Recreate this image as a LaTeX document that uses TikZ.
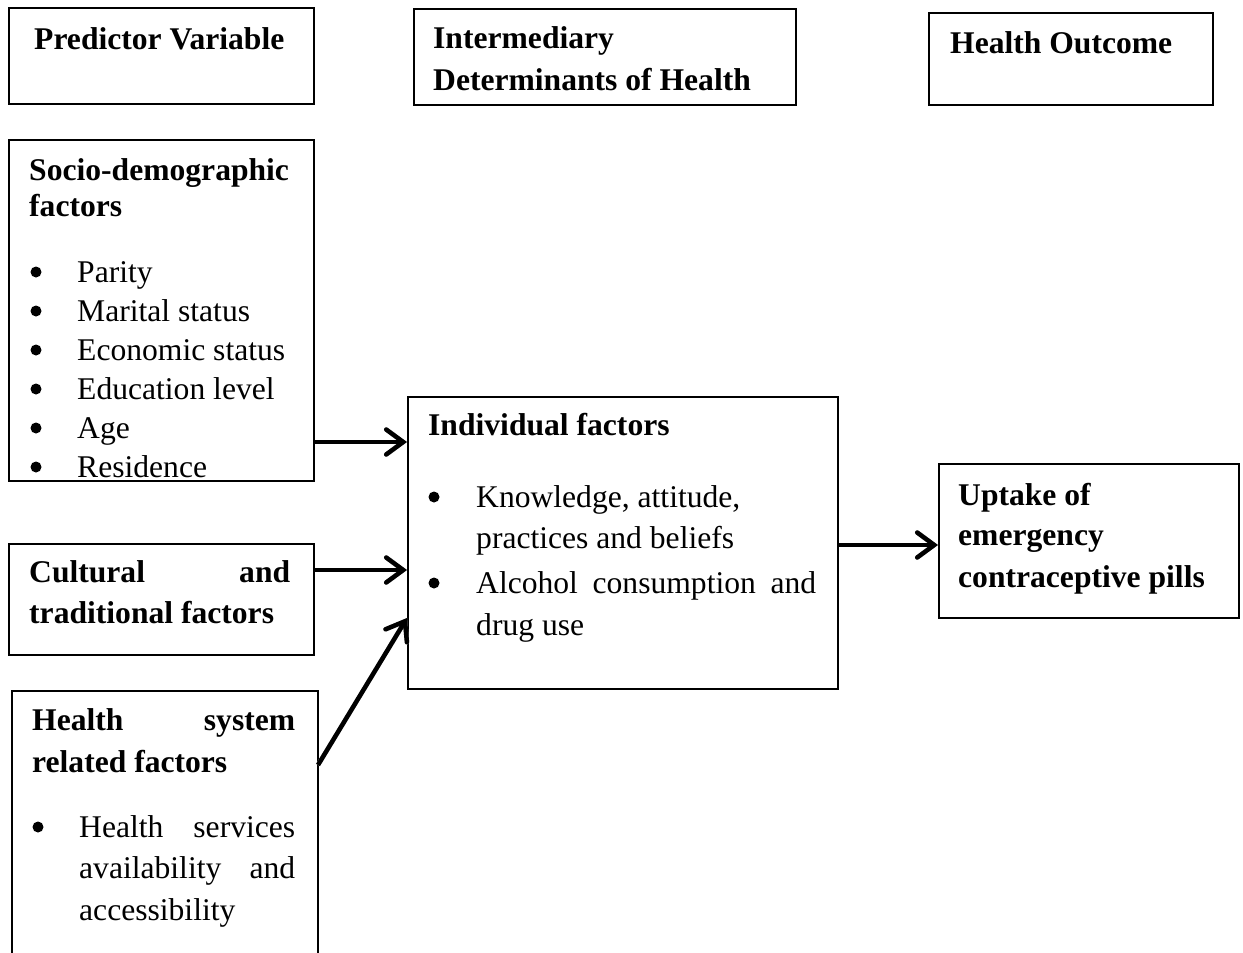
\documentclass[tikz,border=0pt]{standalone}
\usepackage{fontspec}
\setmainfont{Liberation Serif}
\usetikzlibrary{arrows.meta}
\begin{document}
\begin{tikzpicture}[x=1pt,y=-1pt,
  box/.style={draw, line width=2pt, anchor=north west, inner sep=0pt},
  bt/.style={anchor=base west, inner sep=0pt, font=\fontsize{31.6}{38}\selectfont\bfseries},
  nt/.style={anchor=base west, inner sep=0pt, font=\fontsize{31.6}{38}\selectfont},
  bul/.style={circle, fill=black, inner sep=0pt, minimum size=11pt},
  arr/.style={line width=4.5pt, -{Straight Barb[length=17pt,width=25pt,line cap=round]}},
  arrshadow/.style={line width=4.5pt, draw=black!25, -{Straight Barb[length=17pt,width=25pt,line cap=round]}}]
\clip (0,0) rectangle (1243,953);
\useasboundingbox (0,0) rectangle (1243,953);
\fill[white] (0,0) rectangle (1243,953);

% header boxes
\node[box, minimum width=305pt, minimum height=96pt] (pvbox) at (8,7) {};
\node[bt] (pvt) at (34,49) {Predictor Variable};
\node[box, minimum width=382pt, minimum height=96pt] (idbox) at (413,8) {};
\node[bt] (idt1) at (433,48) {Intermediary};
\node[bt] (idt2) at (433,90) {Determinants of Health};
\node[box, minimum width=284pt, minimum height=92pt] (hobox) at (928,12) {};
\node[bt] (hot) at (950,53) {Health Outcome};

% socio-demographic
\node[box, minimum width=305pt, minimum height=341pt] (sd) at (8,139) {};
\node[bt] (sd1) at (29,180) {Socio-demographic};
\node[bt] (sd2) at (29,216) {factors};
\foreach \t [count=\i from 0] in {Parity,Marital status,Economic status,Education level,Age,Residence}{
  \node[bul] (sdb\i) at (36,272+39*\i) {};
  \node[nt] (sdl\i) at (77,282+39*\i) {\t};
}

% cultural
\node[box, minimum width=305pt, minimum height=111pt] (ct) at (8,543) {};
\node[bt] (ct1) at (29,582) {\makebox[261pt][s]{Cultural and}};
\node[bt] (ct2) at (29,623) {traditional factors};

% health system
\node[box, minimum width=306pt, minimum height=300pt] (hs) at (11,690) {};
\node[bt] (hs1) at (32,730) {\makebox[263pt][s]{Health system}};
\node[bt] (hs2) at (32,772) {related factors};
\node[bul] (hsb) at (38,827) {};
\node[nt] (hs3) at (79,837) {\makebox[216pt][s]{Health services}};
\node[nt] (hs4) at (79,878) {\makebox[216pt][s]{availability and}};
\node[nt] (hs5) at (79,920) {accessibility};

% individual factors
\node[box, minimum width=430pt, minimum height=292pt] (ind) at (407,396) {};
\node[bt] (in1) at (428,435) {Individual factors};
\node[bul] (inb1) at (434,497) {};
\node[nt] (in2) at (476,507) {Knowledge, attitude,};
\node[nt] (in3) at (476,548) {practices and beliefs};
\node[bul] (inb2) at (434,583) {};
\node[nt] (in4) at (476,593) {\makebox[340pt][s]{Alcohol consumption and}};
\node[nt] (in5) at (476,635) {drug use};

% uptake
\node[box, minimum width=300pt, minimum height=154pt] (up) at (938,463) {};
\node[bt] (up1) at (958,505) {Uptake of};
\node[bt] (up2) at (958,545) {emergency};
\node[bt] (up3) at (958,587) {contraceptive pills};

% arrows
\coordinate (a1s) at (sd.east |- 0,442);
\coordinate (a1e) at (ind.west |- 0,442);
\coordinate (a2s) at (ct.east |- 0,570);
\coordinate (a2e) at (ind.west |- 0,570);
\coordinate (a3s) at (318,765);
\coordinate (a3e) at (ind.west |- 0,618);
\coordinate (a4s) at (ind.east |- 0,545);
\coordinate (a4e) at (up.west |- 0,545);
\begin{scope}[shift={(1.5,2)}]
\draw[arrshadow] (a1s) -- (a1e);
\draw[arrshadow] (a2s) -- (a2e);
\draw[arrshadow] (a3s) -- (a3e);
\draw[arrshadow] (a4s) -- (a4e);
\end{scope}
\draw[arr] (a1s) -- (a1e);
\draw[arr] (a2s) -- (a2e);
\draw[arr] (a3s) -- (a3e);
\draw[arr] (a4s) -- (a4e);
\end{tikzpicture}
\end{document}
